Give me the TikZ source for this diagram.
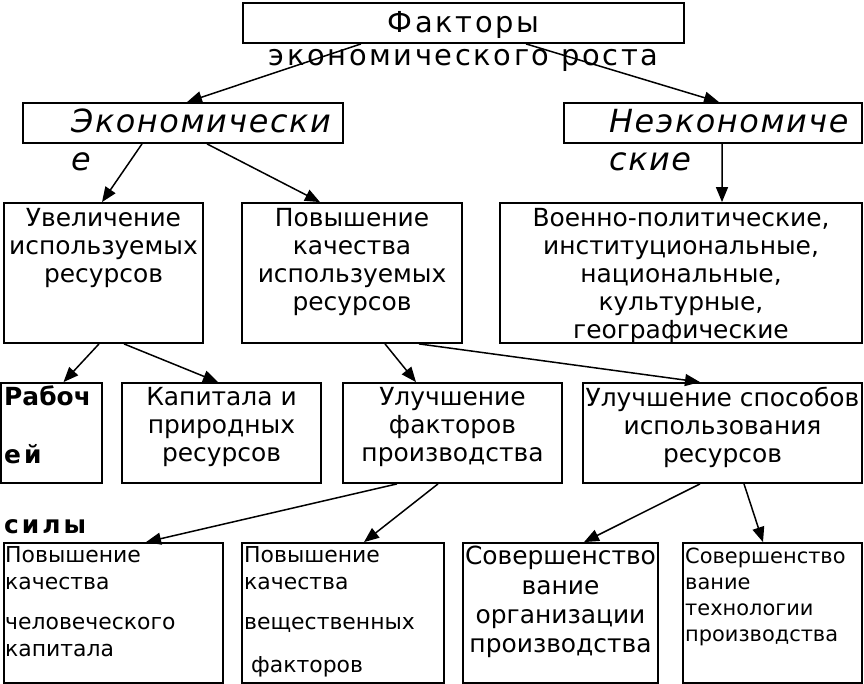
\documentclass[tikz,border=0pt]{standalone}
\usepackage{fontspec}
\setmainfont{DejaVu Sans}
\newfontfamily\spacedfont[LetterSpace=9]{DejaVu Sans}
\newfontfamily\looseitfont[LetterSpace=5]{DejaVu Sans Oblique}
\newfontfamily\loosebffont[LetterSpace=12]{DejaVu Sans Bold}
\usetikzlibrary{arrows.meta}

\begin{document}
\begin{tikzpicture}[x=1bp,y=-1bp]
		\useasboundingbox (0,0) rectangle (864,684);
		\begin{scope}[every node/.style={draw,line width=1.8bp,inner sep=0pt,minimum height=40bp}]
			\node[minimum width=441bp] (top) at (463.5,23) {};
			\node[minimum width=320bp] (econ) at (183,123) {};
			\node[minimum width=298bp] (nonecon) at (713,123) {};
		\end{scope}
		\begin{scope}[every node/.style={draw,line width=1.8bp,inner sep=0pt,minimum height=140bp}]
			\node[minimum width=199bp] (incr) at (103.5,273) {};
			\node[minimum width=220bp] (qual) at (352,273) {};
			\node[minimum width=362bp] (other) at (681,273) {};
			\node[minimum width=219bp] (human) at (113.5,613) {};
			\node[minimum width=202bp] (real) at (343,613) {};
			\node[minimum width=195bp] (org) at (560.5,613) {};
			\node[minimum width=179bp] (tech) at (772.5,613) {};
		\end{scope}
		\begin{scope}[every node/.style={draw,line width=1.8bp,inner sep=0pt,minimum height=100bp}]
			\node[minimum width=101bp] (labour) at (51.5,433) {};
			\node[minimum width=199bp] (capital) at (221.5,433) {};
			\node[minimum width=219bp] (factors) at (452.5,433) {};
			\node[minimum width=279bp] (methods) at (722.5,433) {};
		\end{scope}
		\begin{scope}[every node/.style={inner sep=0pt,align=center,anchor=north,font=\fontsize{25}{28}\selectfont}]
			\node[font=\spacedfont\fontsize{29}{33}\selectfont] (toptxt) at ([yshift=-9bp]top.north) {Факторы\\экономического роста};
			\node[anchor=north west,align=left,font=\looseitfont\fontsize{32}{38}\selectfont] (econtxt) at (71,109) {Экономически\\е};
			\node[anchor=north west,align=left,font=\looseitfont\fontsize{32}{38}\selectfont] (nonecontxt) at (609,109) {Неэкономиче\\ские};
			\node (incrtxt) at ([yshift=-6bp]incr.north) {Увеличение\\используемых\\ресурсов};
			\node (qualtxt) at ([yshift=-6bp]qual.north) {Повышение\\качества\\используемых\\ресурсов};
			\node (othertxt) at ([yshift=-6bp]other.north) {Военно-политические,\\институциональные,\\национальные,\\культурные,\\географические};
			\node[anchor=north west,align=left,font=\fontsize{25}{28}\selectfont\bfseries] (labourtxt) at (4,386) {Рабоч\\[30bp]{\loosebffont ей}\\[42bp]{\loosebffont силы}};
			\node (capitaltxt) at ([yshift=-5bp]capital.north) {Капитала и\\природных\\ресурсов};
			\node (factorstxt) at ([yshift=-5bp]factors.north) {Улучшение\\факторов\\производства};
			\node (methodstxt) at ([yshift=-5bp]methods.north) {Улучшение способов\\использования\\ресурсов};
			\node[anchor=north west,align=left,font=\fontsize{22}{27}\selectfont] (humantxt) at (5,546) {Повышение\\качества\\[14bp]человеческого\\капитала};
			\node[anchor=north west,align=left,font=\fontsize{22}{27}\selectfont] (realtxt) at (244,546) {Повышение\\качества\\[14bp]вещественных\\[16bp]\ факторов};
			\node[font=\fontsize{25}{29.5}\selectfont] (orgtxt) at ([yshift=-4bp]org.north) {Совершенство\\вание\\организации\\производства};
			\node[anchor=north west,align=left,font=\fontsize{21}{26}\selectfont] (techtxt) at (685,548) {Совершенство\\вание\\технологии\\производства};
		\end{scope}
		\begin{scope}[>={Triangle[length=15bp,width=12bp]},
			every edge/.style={draw=black,line width=1.5bp}]
			\path [->] ([xshift=-102.5bp]top.south) edge ([xshift=4bp]econ.north);
			\path [->] ([xshift=62.5bp]top.south) edge ([xshift=6bp]nonecon.north);
			\path [->] ([xshift=-41bp]econ.south) edge ([xshift=-1.5bp]incr.north);
			\path [->] ([xshift=24bp]econ.south) edge ([xshift=-32bp]qual.north);
			\path [->] ([xshift=9bp]nonecon.south) edge ([xshift=41bp]other.north);
			\path [->] ([xshift=-4.5bp]incr.south) edge ([xshift=12bp]labour.north);
			\path [->] ([xshift=20.5bp]incr.south) edge ([xshift=-3.5bp]capital.north);
			\path [->] ([xshift=33bp]qual.south) edge ([xshift=-36.5bp]factors.north);
			\path [->] ([xshift=67bp]qual.south) edge ([xshift=-22.5bp]methods.north);
			\path [->] ([xshift=-55.5bp]factors.south) edge ([xshift=32.5bp]human.north);
			\path [->] ([xshift=-14.5bp]factors.south) edge ([xshift=21bp]real.north);
			\path [->] ([xshift=-22.5bp]methods.south) edge ([xshift=23.5bp]org.north);
			\path [->] ([xshift=21.5bp]methods.south) edge ([xshift=-9.5bp]tech.north);
		\end{scope}
	\end{tikzpicture}
\end{document}
